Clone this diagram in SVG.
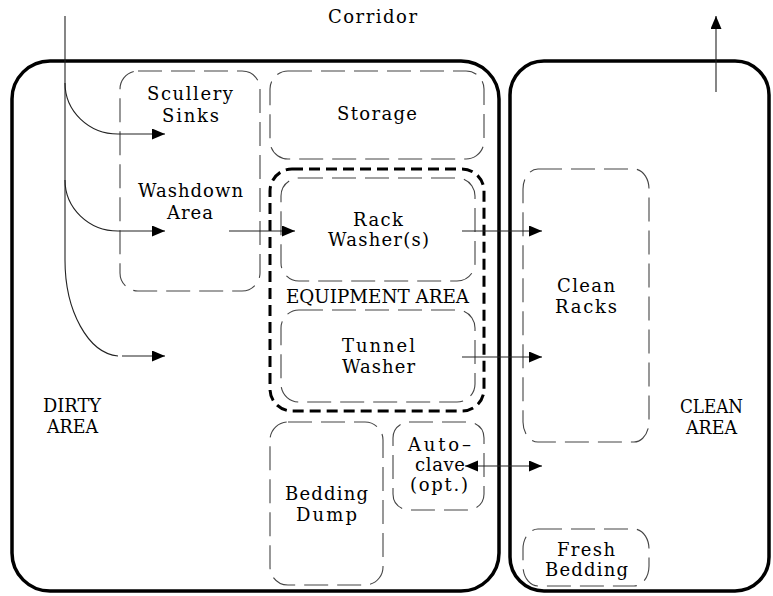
<svg xmlns="http://www.w3.org/2000/svg" width="773" height="596" viewBox="0 0 773 596">
  <style>
    .zone { fill: none; stroke: #000; stroke-width: 3.5; }
    .room { fill: none; stroke: #444; stroke-width: 1.1; stroke-dasharray: 24 9; }
    .equip { fill: none; stroke: #000; stroke-width: 3; stroke-dasharray: 11 6; }
    .flow { fill: none; stroke: #222; stroke-width: 1.1; }
    text { font-family: "DejaVu Serif", "Liberation Serif", serif; font-size: 18px; fill: #000; text-anchor: middle; }
    .caps { font-size: 19px; }
  </style>
  <defs>
    <marker id="head" markerUnits="userSpaceOnUse" markerWidth="14" markerHeight="12" refX="13" refY="5.5" orient="auto-start-reverse">
      <path d="M0,0 L13,5.5 L0,11 z" fill="#000"/>
    </marker>
  </defs>

  <rect width="773" height="596" fill="#fff"/>

  <!-- Zones -->
  <g id="dirty-area">
    <rect class="zone" x="12" y="61" width="487" height="530" rx="38" ry="38"/>
    <text class="caps" x="72" y="412" textLength="58" lengthAdjust="spacingAndGlyphs">DIRTY</text>
    <text class="caps" x="72.5" y="433" textLength="51" lengthAdjust="spacingAndGlyphs">AREA</text>
  </g>
  <g id="clean-area">
    <rect class="zone" x="510" y="61" width="259" height="530" rx="34" ry="34"/>
    <text class="caps" x="711.5" y="413" textLength="63" lengthAdjust="spacingAndGlyphs">CLEAN</text>
    <text class="caps" x="711.5" y="434" textLength="51" lengthAdjust="spacingAndGlyphs">AREA</text>
  </g>

  <g id="corridor">
    <text x="372.5" y="23" textLength="89" lengthAdjust="spacing">Corridor</text>
  </g>

  <!-- Rooms -->
  <g id="scullery-washdown">
    <rect class="room" x="120" y="71" width="140" height="220" rx="18" ry="18"/>
    <text x="190" y="100" textLength="86" lengthAdjust="spacing">Scullery</text>
    <text x="190.5" y="122" textLength="57" lengthAdjust="spacing">Sinks</text>
    <text x="190.5" y="197" textLength="105" lengthAdjust="spacing">Washdown</text>
    <text x="190" y="219" textLength="46" lengthAdjust="spacing">Area</text>
  </g>
  <g id="storage">
    <rect class="room" x="270" y="71" width="214" height="88" rx="18" ry="18"/>
    <text x="377" y="120" textLength="80" lengthAdjust="spacing">Storage</text>
  </g>
  <g id="equipment-area">
    <rect class="equip" x="270" y="169" width="214" height="242" rx="22" ry="22"/>
    <text class="caps" x="377.5" y="303" textLength="183" lengthAdjust="spacingAndGlyphs">EQUIPMENT AREA</text>
  </g>
  <g id="rack-washer">
    <rect class="room" x="281" y="178" width="194" height="103" rx="18" ry="18"/>
    <text x="378" y="226" textLength="50" lengthAdjust="spacing">Rack</text>
    <text x="378.5" y="246" textLength="101" lengthAdjust="spacing">Washer(s)</text>
  </g>
  <g id="tunnel-washer">
    <rect class="room" x="281" y="310" width="194" height="92" rx="18" ry="18"/>
    <text x="378.5" y="352" textLength="73" lengthAdjust="spacing">Tunnel</text>
    <text x="378.5" y="373" textLength="73" lengthAdjust="spacing">Washer</text>
  </g>
  <g id="bedding-dump">
    <rect class="room" x="270" y="422" width="113" height="163" rx="18" ry="18"/>
    <text x="326.5" y="500" textLength="83" lengthAdjust="spacing">Bedding</text>
    <text x="326.5" y="521" textLength="61" lengthAdjust="spacing">Dump</text>
  </g>
  <g id="autoclave">
    <rect class="room" x="393" y="422" width="91" height="88" rx="16" ry="16"/>
    <text x="439.5" y="451" textLength="63" lengthAdjust="spacing">Auto–</text>
    <text x="440" y="471" textLength="50" lengthAdjust="spacing">clave</text>
    <text x="439" y="491" textLength="58" lengthAdjust="spacing">(opt.)</text>
  </g>
  <g id="clean-racks">
    <rect class="room" x="523" y="169" width="126" height="273" rx="15" ry="20"/>
    <text x="586" y="292" textLength="58" lengthAdjust="spacing">Clean</text>
    <text x="586" y="313" textLength="62" lengthAdjust="spacing">Racks</text>
  </g>
  <g id="fresh-bedding">
    <rect class="room" x="523" y="529" width="126" height="57" rx="15" ry="20"/>
    <text x="586" y="556" textLength="58" lengthAdjust="spacing">Fresh</text>
    <text x="586.5" y="576" textLength="83" lengthAdjust="spacing">Bedding</text>
  </g>

  <!-- Connectors -->
  <g id="connectors">
    <path class="flow" d="M65,16 V260"/>
    <path class="flow" d="M65,83 A53,51 0 0 0 118,134 H165" marker-end="url(#head)"/>
    <path class="flow" d="M65,180 A53,51 0 0 0 118,231 H165" marker-end="url(#head)"/>
    <path class="flow" d="M65,260 A56,96 0 0 0 118,356"/>
    <path class="flow" d="M122,356 H165" marker-end="url(#head)"/>
    <path class="flow" d="M229,231 H295" marker-end="url(#head)"/>
    <path class="flow" d="M462,231 H542" marker-end="url(#head)"/>
    <path class="flow" d="M462,357 H542" marker-end="url(#head)"/>
    <path class="flow" d="M465,466 H542" marker-start="url(#head)" marker-end="url(#head)"/>
    <path class="flow" d="M716,92 V16" marker-end="url(#head)"/>
  </g>
</svg>
